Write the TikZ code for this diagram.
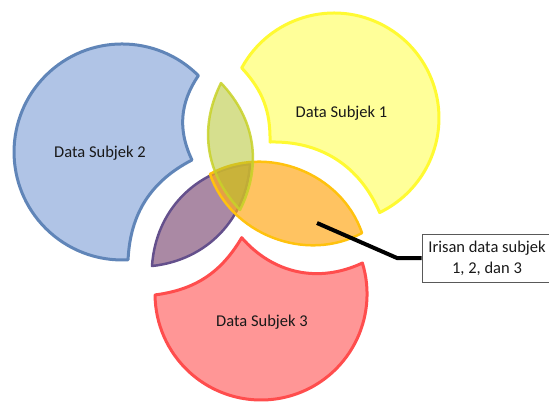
\documentclass[tikz,border=0pt]{standalone}
\usepackage{fontspec}
\setmainfont{Carlito}
\usepackage{tikz}

\definecolor{yfill}{RGB}{255,255,153}
\definecolor{yline}{RGB}{255,250,50}
\definecolor{bfill}{RGB}{176,196,230}
\definecolor{bline}{RGB}{96,133,184}
\definecolor{rfill}{RGB}{255,150,150}
\definecolor{rline}{RGB}{255,77,77}
\definecolor{gfill}{RGB}{180,196,50}
\definecolor{gline}{RGB}{200,210,40}
\definecolor{pfill}{RGB}{100,40,90}
\definecolor{pline}{RGB}{100,80,140}
\definecolor{ofill}{RGB}{255,170,30}
\definecolor{oline}{RGB}{255,194,14}

\begin{document}
\begin{tikzpicture}[x=1pt, y=-1pt,
    part/.style={line width=3pt, line join=round},
    lens/.style={line width=2.5pt, line join=round, fill opacity=0.55},
    label/.style={font=\fontsize{16.5}{20}\selectfont, text=black!90},
    callout/.style={draw=black!65, line width=0.8pt, fill=white, align=center, minimum width=130pt, minimum height=48pt, inner sep=2pt, font=\fontsize{16.5}{21}\selectfont, text=black!90},
    pinline/.style={line width=4pt}]
    \useasboundingbox (0,0) rectangle (549,405);

    % Draw subject parts
    \draw[part, draw=yline, fill=yfill] (270,142) to[bend right=22] (241.7,67.9)
        arc[start angle=-151.5, end angle=64.2, radius=105] to[bend right=34] cycle;
    \draw[part, draw=bline, fill=bfill] (192,160) to[bend left=30] (198.4,75.6)
        arc[start angle=-45, end angle=-273.2, radius=108] to[bend left=30] cycle;
    \draw[part, draw=rline, fill=rfill] (241.7,237.7) to[bend right=37] (362.4,263)
        arc[start angle=-17, end angle=179.5, radius=106] to[bend right=26] cycle;

    % Draw intersections
    \draw[lens, draw=pline, fill=pfill] (152,266) to[bend left=40] (250,164) to[bend left=40] cycle;
    \draw[lens, draw=oline, fill=ofill, fill opacity=0.7] (210,174) to[bend left=50] (362,233) to[bend left=50] cycle;
    \draw[lens, draw=gline, fill=gfill, draw opacity=0.85] (221,83) to[bend right=35] (240,210) to[bend right=35] cycle;

    % Labels
    \node[label] (s1) at (341.5,113) {Data Subjek 1};
    \node[label] (s2) at (100,153) {Data Subjek 2};
    \node[label] (s3) at (262,322) {Data Subjek 3};

    % Callout
    \node[callout] (irisan) at (487,258) {Irisan data subjek\\1, 2, dan 3};
    \coordinate (pin) at (317,223);
    \coordinate (knee) at (397,258);
    \draw[pinline] (pin) -- (knee) -- (irisan);
\end{tikzpicture}
\end{document}
